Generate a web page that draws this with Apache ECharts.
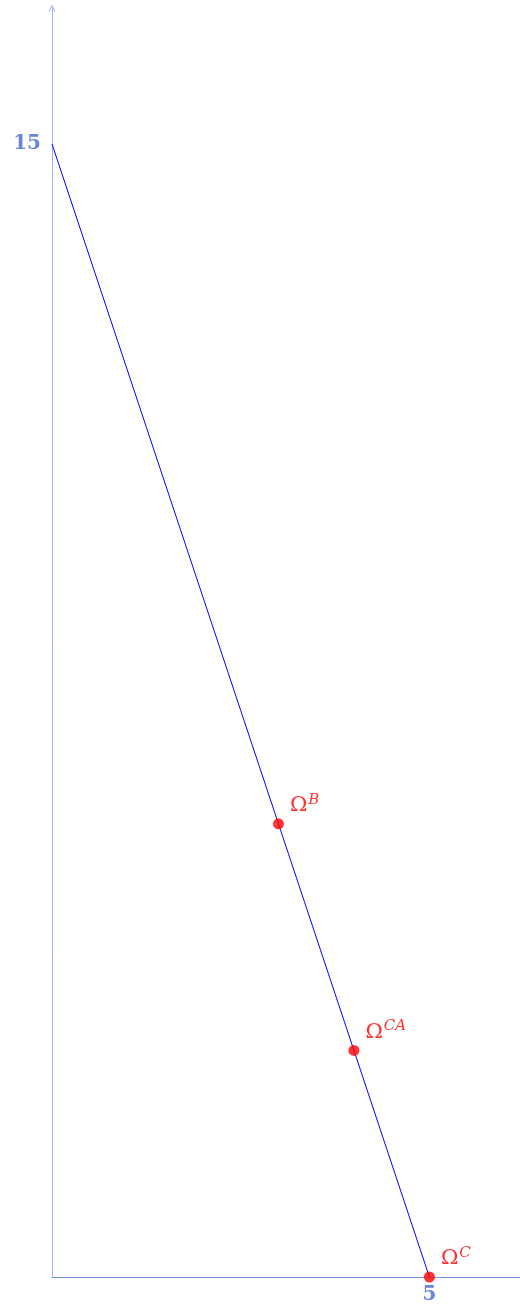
<!DOCTYPE html>
<html>
<head>
    <meta charset="utf-8">
    <title>Omega</title>
    <script src="https://cdn.jsdelivr.net/npm/echarts@6/dist/echarts.min.js"></script>
    <style>
        html, body { margin: 0; padding: 0; background: #fff; }
        #chart { width: 520px; height: 1306px; }
    </style>
</head>
<body>
<div id="chart"></div>
<script type="text/javascript">
    // 直线的两个端点
    var lineX = [0, 5];
    var lineY = [15, 0];
    // 标记点
    var pointNames = ['B', 'CA', 'C'];
    var pointX = [3, 4, 5];
    var pointY = [6, 3, 0];
    // 轴上显示的刻度
    var xTicks = [5];
    var yTicks = [15];

    var axisColor = '#7390e0';
    var labelColor = '#6a86d6';

    var myChart = echarts.init(document.getElementById('chart'));

    var lineData = lineX.map(function (x, i) { return [x, lineY[i]]; });
    var pointData = pointX.map(function (x, i) {
        return { value: [x, pointY[i]], name: pointNames[i] };
    });

    myChart.setOption({
        animation: false,
        grid: { left: 52, right: 0, top: 8, bottom: 29, containLabel: false },
        xAxis: {
            type: 'value', min: 0, max: 6.2,
            splitLine: { show: false },
            axisTick: { show: false },
            axisLine: { onZero: false, lineStyle: { color: axisColor, width: 1 } },
            axisLabel: {
                customValues: xTicks,
                color: labelColor, fontFamily: 'DejaVu Serif', fontWeight: 'bold', fontSize: 20,
                margin: 8
            }
        },
        yAxis: {
            type: 'value', min: 0, max: 16.8,
            splitLine: { show: false },
            axisTick: { show: false },
            axisLine: {
                onZero: false,
                // 开口箭头
                symbol: ['none', 'path://M0,10 L5,0 L10,10 L8.4,10 L5,3.2 L1.6,10 Z'], symbolSize: [11, 7],
                lineStyle: { color: '#9fb4ec', width: 1 }
            },
            axisLabel: {
                customValues: yTicks,
                color: labelColor, fontFamily: 'DejaVu Serif', fontWeight: 'bold', fontSize: 20,
                margin: 11
            }
        },
        series: [
            {
                type: 'line',
                data: lineData,
                symbol: 'none',
                lineStyle: { color: '#0000ff', width: 1 },
                z: 2
            },
            {
                type: 'scatter',
                data: pointData,
                symbolSize: 11,
                itemStyle: { color: '#ff0000' },
                z: 3,
                label: {
                    show: true,
                    position: 'right',
                    offset: [1, -18],
                    formatter: function (p) { return '{o|Ω}{s|' + p.name + '}'; },
                    rich: {
                        o: { fontFamily: 'DejaVu Serif', fontSize: 21, color: '#ff0000' },
                        s: { fontFamily: 'DejaVu Serif', fontStyle: 'italic', fontSize: 15,
                             color: '#ff0000', verticalAlign: 'top', padding: [0, 0, 12, 1] }
                    }
                }
            }
        ]
    });
</script>
</body>
</html>
